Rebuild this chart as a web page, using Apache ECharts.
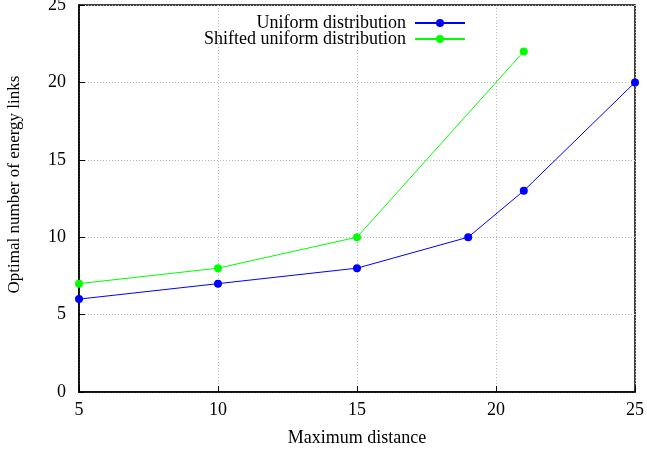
<!DOCTYPE html>
<html lang="en">
<head>
    <meta charset="UTF-8">
    <title>Optimal number of energy links</title>
    <script src="https://cdn.jsdelivr.net/npm/echarts@6/dist/echarts.min.js"></script>
</head>
<body style="margin:0">
<div id="myCharts" style="height: 453px;width: 647px"></div>
<script>
    // values
    const uniformX = [5, 10, 15, 19, 21, 25];
    const uniformY = [6, 7, 8, 10, 13, 20];
    const shiftedX = [5, 10, 15, 21];
    const shiftedY = [7, 8, 10, 22];
    const seriesNames = ['Uniform distribution', 'Shifted uniform distribution'];

    const font = 'Liberation Serif';
    const pair = (xs, ys) => xs.map((x, i) => [x, ys[i]]);

    let axisCommon = {
        axisLine: {show: true, lineStyle: {color: '#000', width: 1.5}},
        axisTick: {show: true, inside: true, length: 6, lineStyle: {color: '#000'}},
        splitLine: {show: true, lineStyle: {color: '#bbb', type: [1, 2], width: 1}},
        axisLabel: {color: '#000', fontFamily: font, fontSize: 18},
        nameTextStyle: {color: '#000', fontFamily: font, fontSize: 18}
    };

    let myChart = echarts.init(document.getElementById('myCharts'));
    myChart.setOption({
        animation: false,
        backgroundColor: '#fff',
        grid: {
            left: 79, right: 12, top: 5, bottom: 61, show: true,
            borderColor: '#000', borderWidth: 1.5, outerBoundsMode: 'none'
        },
        legend: {
            data: seriesNames,
            orient: 'vertical',
            align: 'right',
            right: 176,
            top: 9,
            itemWidth: 50,
            itemHeight: 10,
            itemGap: -2,
            textStyle: {fontFamily: font, fontSize: 18, color: '#000', padding: [0, 4, 0, 0]}
        },
        xAxis: Object.assign({}, axisCommon, {
            type: 'value', min: 5, max: 25, interval: 5,
            name: 'Maximum distance', nameLocation: 'middle', nameGap: 37,
            axisLabel: Object.assign({}, axisCommon.axisLabel, {margin: 9})
        }),
        yAxis: Object.assign({}, axisCommon, {
            type: 'value', min: 0, max: 25, interval: 5,
            name: 'Optimal number of energy links', nameLocation: 'middle', nameGap: 56,
            nameTextStyle: Object.assign({}, axisCommon.nameTextStyle, {fontSize: 17, padding: [0, 0, 0, 28]}),
            axisLabel: Object.assign({}, axisCommon.axisLabel, {margin: 13})
        }),
        series: [
            {
                name: seriesNames[0], type: 'line', data: pair(uniformX, uniformY),
                symbol: 'circle', symbolSize: 8,
                itemStyle: {color: '#0000ff'}, lineStyle: {color: '#0000ff', width: 1}
            },
            {
                name: seriesNames[1], type: 'line', data: pair(shiftedX, shiftedY),
                symbol: 'circle', symbolSize: 8,
                itemStyle: {color: '#00ff00'}, lineStyle: {color: '#00ff00', width: 1}
            }
        ]
    });
</script>
</body>
</html>
